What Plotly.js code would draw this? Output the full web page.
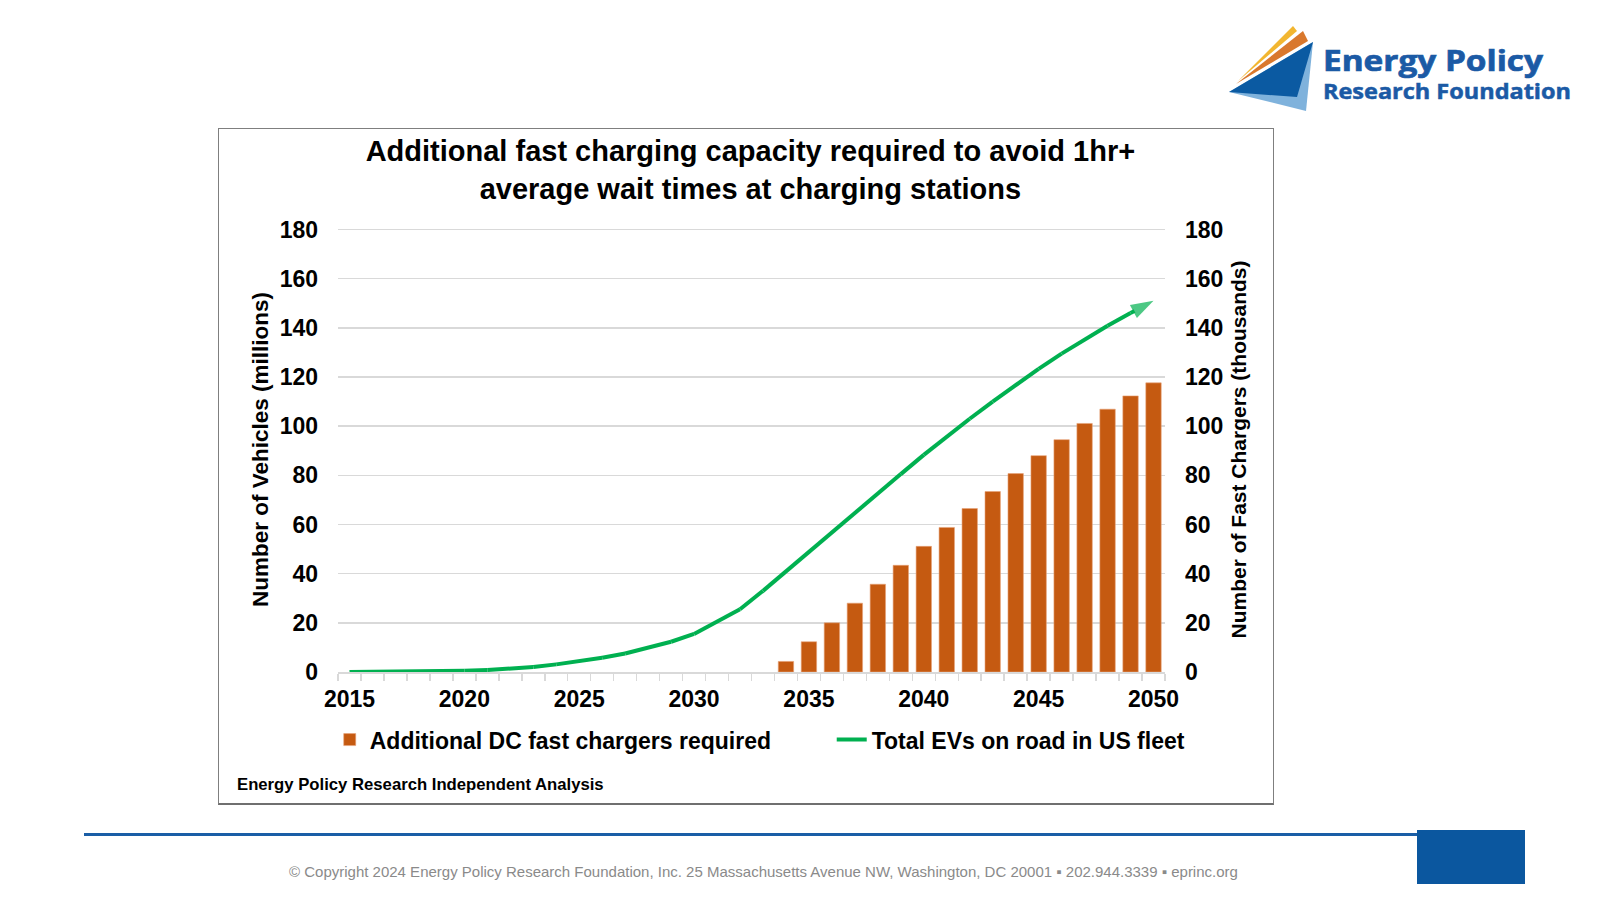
<!DOCTYPE html>
<html>
<head>
<meta charset="utf-8">
<script src="https://cdn.plot.ly/plotly-3.0.1.min.js"></script>
<style>
body{margin:0;width:1600px;height:900px;background:#fff;position:relative;overflow:hidden;font-family:"Liberation Sans",Arial,sans-serif}
#box{position:absolute;left:218px;top:128px;width:1054px;height:674px;border:1.5px solid #7f7f7f;border-bottom:2px solid #6f6f6f}
#chart{position:absolute;left:0;top:0;width:1600px;height:900px}
#src{position:absolute;left:237px;top:775px;font-weight:bold;font-size:16.7px;color:#000}
#rule{position:absolute;left:84px;top:833px;width:1333px;height:3px;background:#1a5ea6}
#blk{position:absolute;left:1417px;top:830px;width:108px;height:54px;background:#0b579f}
#foot{position:absolute;left:289px;top:863px;font-size:15px;color:#8a8a8a;white-space:nowrap}
#logo{position:absolute;left:0;top:0}
</style>
</head>
<body>
<div id="box"></div>
<div id="chart"></div>
<div id="src">Energy Policy Research Independent Analysis</div>
<div id="rule"></div>
<div id="blk"></div>
<div id="foot">© Copyright 2024 Energy Policy Research Foundation, Inc. 25 Massachusetts Avenue NW, Washington, DC 20001 ▪ 202.944.3339 ▪ eprinc.org</div>
<svg id="logo" width="1600" height="130">
  <polygon points="1229,92 1313,42 1306,111" fill="#7fb2dc"/>
  <polygon points="1229,92 1313,42 1297,97" fill="#0b5aa2"/>
  <polygon points="1236,84 1303,31 1308,41" fill="#d9782d"/>
  <polygon points="1238,81 1293,26 1297,31" fill="#f2b630"/>
  <text x="1323" y="71" font-family="Open Sans" font-weight="bold" font-size="29" fill="#1b5aa5" stroke="#1b5aa5" stroke-width="0.7" textLength="220" lengthAdjust="spacingAndGlyphs">Energy Policy</text>
  <text x="1323" y="99" font-family="Open Sans" font-weight="bold" font-size="21" fill="#1b5aa5" stroke="#1b5aa5" stroke-width="0.5" textLength="248" lengthAdjust="spacingAndGlyphs">Research Foundation</text>
</svg>
<script>
// EV fleet (millions) by year
var years = [2015,2016,2017,2018,2019,2020,2021,2022,2023,2024,2025,2026,2027,2028,2029,2030,2031,2032,
             2033,2034,2035,2036,2037,2038,2039,2040,2041,2042,2043,2044,2045,2046,2047,2048,2049,2050];
var evFleet = [0.0,0.05,0.1,0.2,0.3,0.5,0.8,1.2,2.0,3.1,4.4,5.8,7.5,9.7,12.3,15.5,20.5,25.5,
               33.0,41.0,48.7,56.5,64.5,72.5,80.5,88.3,95.8,103.0,110.0,116.8,123.3,129.5,135.3,140.8,146.0,151.0];

// additional DC fast chargers (thousands)
var chargerYears = [2034,2035,2036,2037,2038,2039,2040,2041,2042,2043,2044,2045,2046,2047,2048,2049,2050];
var chargers = [4.3,12.3,20.0,28.0,35.7,43.4,51.1,58.8,66.5,73.4,80.7,88.0,94.5,101.1,106.9,112.3,117.6];

var tickYears = [2015,2020,2025,2030,2035,2040,2045,2050];
var tickLabels = ['2015','2020','2025','2030','2035','2040','2045','2050'];

var bounds = [];
for (var i = 0; i <= years.length; i++) bounds.push(years[0] - 0.5 + i);

var arrowSize = years.map(function(y, i){ return i === years.length - 1 ? 24 : 0; });

var trace1 = {
  type: 'bar',
  x: chargerYears,
  y: chargers,
  yaxis: 'y2',
  name: 'Additional DC fast chargers required',
  marker: {color: '#c55a11', line: {color: '#e8a378', width: 0.6}},
  hoverinfo: 'skip'
};

var trace2 = {
  type: 'scatter',
  mode: 'lines+markers',
  x: years,
  y: evFleet,
  name: 'Total EVs on road in US fleet',
  line: {color: '#00b050', width: 4},
  marker: {symbol: 'arrow', angleref: 'previous', size: arrowSize, color: '#00b050', line: {width: 0}},
  hoverinfo: 'skip'
};

var bold = 700;
var layout = {
  width: 1600, height: 900,
  paper_bgcolor: 'rgba(0,0,0,0)', plot_bgcolor: 'rgba(0,0,0,0)',
  margin: {l: 338, r: 435, t: 227, b: 228},
  font: {family: '"Liberation Sans", Arial, sans-serif', color: '#000'},
  showlegend: true,
  bargap: 0.33,
  title: {
    text: 'Additional fast charging capacity required to avoid 1hr+<br>average wait times at charging stations',
    font: {size: 29, weight: bold},
    xref: 'container', x: 0.469, xanchor: 'center',
    yref: 'container', y: 0.821, yanchor: 'middle'
  },
  xaxis: {
    range: [2014.5, 2050.5],
    tickmode: 'array', tickvals: tickYears, ticktext: tickLabels,
    ticks: '', ticklabelstandoff: 6,
    tickfont: {size: 23, weight: bold},
    showgrid: false, zeroline: false,
    showline: true, linecolor: '#d9d9d9', linewidth: 1.5,
    minor: {tickmode: 'array', tickvals: bounds, ticks: 'outside', ticklen: 7, tickwidth: 1.5, tickcolor: '#d9d9d9', showgrid: false}
  },
  yaxis: {
    range: [0, 181], tickmode: 'linear', tick0: 0, dtick: 20,
    ticks: '', ticklabelstandoff: 19,
    tickfont: {size: 23, weight: bold},
    showgrid: true, gridcolor: '#d9d9d9', gridwidth: 1.5,
    zeroline: false, showline: false,
    title: {text: 'Number of Vehicles (millions)', font: {size: 22.5, weight: bold}, standoff: 4}
  },
  yaxis2: {
    overlaying: 'y', side: 'right',
    range: [0, 181], tickmode: 'linear', tick0: 0, dtick: 20,
    ticks: '', ticklabelstandoff: 19,
    tickfont: {size: 23, weight: bold},
    showgrid: false, zeroline: false, showline: false,
    title: {text: 'Number of Fast Chargers (thousands)', font: {size: 21, weight: bold}, standoff: 8}
  },
  legend: {
    orientation: 'h', x: -0.01, xanchor: 'left', y: -0.152, yanchor: 'middle',
    entrywidth: 457, entrywidthmode: 'pixels',
    font: {size: 23, weight: bold}, bgcolor: 'rgba(0,0,0,0)', traceorder: 'normal'
  }
};

Plotly.newPlot('chart', [trace1, trace2], layout, {displayModeBar: false, staticPlot: true});
</script>
</body>
</html>
